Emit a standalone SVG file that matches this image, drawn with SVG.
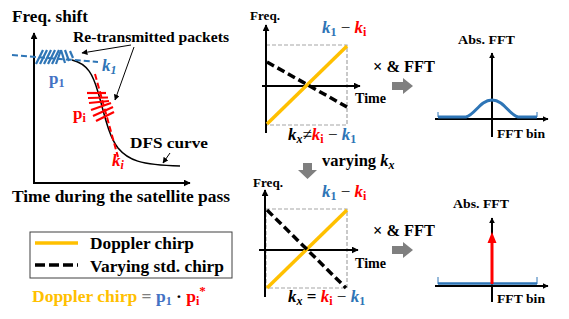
<svg xmlns="http://www.w3.org/2000/svg" width="569" height="319" viewBox="0 0 569 319">
<defs>
<marker id="ah" viewBox="0 0 10 10" refX="9" refY="5" markerWidth="7" markerHeight="7" markerUnits="userSpaceOnUse" orient="auto"><path d="M0,0 L10,5 L0,10 z" fill="#000"/></marker>
<marker id="ahs" viewBox="0 0 10 10" refX="9" refY="5" markerWidth="6" markerHeight="6" markerUnits="userSpaceOnUse" orient="auto"><path d="M0,0 L10,5 L0,10 z" fill="#000"/></marker>
</defs>
<style>
text{font-family:"Liberation Serif","Times New Roman",serif;font-weight:bold;fill:#000}
.m{font-style:italic}
.b{fill:#2E75B6}.r{fill:#FF0000}.y{fill:#FFC000}.g{fill:#7F7F7F}.pb{fill:#4472C4}
.ax{stroke:#000;stroke-width:2;fill:none}
.box{stroke:#A6A6A6;stroke-width:1.2;stroke-dasharray:4 2;fill:none}
.yl{stroke:#FFC000;stroke-width:3.5}
.bd{stroke:#000;stroke-width:3.5;stroke-dasharray:8 4}
.ga{fill:#7F7F7F}
</style>
<g id="left-plot">
<line class="ax" x1="34" y1="183" x2="34" y2="33" marker-end="url(#ah)"/>
<line class="ax" x1="33" y1="183" x2="190" y2="183" marker-end="url(#ah)"/>
<text x="12" y="22" font-size="17" textLength="76" lengthAdjust="spacingAndGlyphs">Freq. shift</text>
<text x="12" y="201.5" font-size="17" textLength="218" lengthAdjust="spacingAndGlyphs">Time during the satellite pass</text>
<path d="M72,60 C88,64 93,75 98,92 C104,112 108,135 118,148 C128,160 140,165 180,166" stroke="#000" stroke-width="1.5" fill="none"/>
<line x1="12" y1="55" x2="98" y2="62" stroke="#2E75B6" stroke-width="2" stroke-dasharray="6 3"/>
<g stroke="#2E75B6" stroke-width="2.2">
<line x1="36" y1="64" x2="43" y2="50"/>
<line x1="40" y1="64" x2="47" y2="50"/>
<line x1="44" y1="64" x2="51" y2="50"/>
<line x1="48" y1="64" x2="55" y2="50"/>
<line x1="52" y1="64" x2="59" y2="50"/>
<line x1="56" y1="64" x2="61" y2="50"/>
<line x1="61" y1="50" x2="65" y2="63"/>
<line x1="65" y1="50" x2="69" y2="61"/>
<line x1="70" y1="51" x2="73" y2="58"/>
</g>
<line x1="95" y1="74" x2="118" y2="157" stroke="#FF0000" stroke-width="2" stroke-dasharray="6 3"/>
<g stroke="#FF0000" stroke-width="2.2">
<line x1="87" y1="93" x2="106" y2="93"/>
<line x1="88" y1="98" x2="108" y2="97.5"/>
<line x1="89" y1="103" x2="109" y2="101"/>
<line x1="91" y1="110" x2="111" y2="103"/>
<line x1="93" y1="116" x2="113" y2="107"/>
<line x1="96" y1="121" x2="114" y2="112"/>
</g>
<text x="102" y="71" font-size="17" class="m b">k<tspan font-size="12" dy="3">1</tspan></text>
<text x="49" y="84" font-size="17" class="pb">p<tspan font-size="12" dy="3">1</tspan></text>
<text x="73" y="119" font-size="17" class="r">p<tspan font-size="12" dy="3">i</tspan></text>
<text x="112" y="166" font-size="17" class="m r">k<tspan font-size="12" dy="3">i</tspan></text>
<text x="73" y="41.5" font-size="14.5" textLength="156" lengthAdjust="spacingAndGlyphs">Re-transmitted packets</text>
<text x="130" y="148" font-size="15.5" textLength="78" lengthAdjust="spacingAndGlyphs">DFS curve</text>
<line x1="131" y1="45" x2="82" y2="53" stroke="#000" stroke-width="1" marker-end="url(#ahs)"/>
<line x1="134" y1="47" x2="115" y2="100" stroke="#000" stroke-width="1" marker-end="url(#ahs)"/>
<line x1="170" y1="153" x2="163" y2="163" stroke="#000" stroke-width="1" marker-end="url(#ahs)"/>
</g>
<g id="legend">
<rect x="30" y="232" width="202" height="46" fill="#fff" stroke="#404040" stroke-width="1"/>
<line x1="35" y1="243" x2="78" y2="243" stroke="#FFC000" stroke-width="3.5"/>
<line x1="35" y1="265" x2="78" y2="265" stroke="#000" stroke-width="3.5" stroke-dasharray="10 4"/>
<text x="90" y="249" font-size="16.5" textLength="104" lengthAdjust="spacingAndGlyphs">Doppler chirp</text>
<text x="90" y="271.5" font-size="16.5" textLength="134" lengthAdjust="spacingAndGlyphs">Varying std. chirp</text>
</g>
<g id="formula">
<text x="32" y="302" font-size="17.5"><tspan class="y">Doppler chirp</tspan><tspan class="g"> = </tspan><tspan class="pb">p</tspan><tspan class="pb" font-size="12" dy="3">1</tspan><tspan dy="-3"> · </tspan><tspan class="r">p</tspan><tspan class="r" font-size="12" dy="3">i</tspan><tspan class="r" font-size="13" dy="-10">*</tspan></text>
</g>
<g id="top-chirp">
<rect class="box" x="266" y="45" width="81" height="80"/>
<line class="ax" x1="266" y1="133" x2="266" y2="25" marker-end="url(#ah)"/>
<line class="ax" x1="262" y1="86" x2="360" y2="86" marker-end="url(#ah)"/>
<line class="yl" x1="267" y1="124" x2="347" y2="46"/>
<line class="bd" x1="267" y1="62" x2="347" y2="107"/>
<text x="250" y="19.5" font-size="13" textLength="30" lengthAdjust="spacingAndGlyphs">Freq.</text>
<text x="355" y="103" font-size="14" textLength="31" lengthAdjust="spacingAndGlyphs">Time</text>
<text x="322" y="33" font-size="17"><tspan class="m b">k</tspan><tspan class="b" font-size="12" dy="3">1</tspan><tspan dy="-3" font-weight="normal"> − </tspan><tspan class="m r">k</tspan><tspan class="r" font-size="12" dy="3">i</tspan></text>
<text x="288" y="140" font-size="17"><tspan class="m">k</tspan><tspan class="m" font-size="12" dy="3">x</tspan><tspan dy="-3" font-weight="normal">≠</tspan><tspan class="m r">k</tspan><tspan class="r" font-size="12" dy="3">i</tspan><tspan dy="-3" font-weight="normal"> − </tspan><tspan class="m b">k</tspan><tspan class="b" font-size="12" dy="3">1</tspan></text>
</g>
<g id="top-fft-step">
<text x="373" y="72" font-size="16.5" textLength="62" lengthAdjust="spacingAndGlyphs">× &amp; FFT</text>
<path class="ga" d="M392,82 L403,82 L403,78 L413,86 L403,94 L403,90 L392,90 z"/>
</g>
<g id="top-fft">
<line class="ax" x1="492" y1="137" x2="492" y2="53" stroke-width="1.8" marker-end="url(#ahs)"/>
<line class="ax" x1="435" y1="119" x2="548" y2="119" stroke-width="1.8" marker-end="url(#ahs)"/>
<path d="M438,117 L466,117 C475,115 480,100 492,100 C504,100 509,115 518,117 L537,117" stroke="#2E75B6" stroke-width="3" fill="none"/>
<line x1="438" y1="112" x2="438" y2="117" stroke="#2E75B6" stroke-width="1"/>
<line x1="537" y1="112" x2="537" y2="117" stroke="#2E75B6" stroke-width="1"/>
<text x="458" y="44" font-size="13" textLength="57" lengthAdjust="spacingAndGlyphs">Abs. FFT</text>
<text x="497" y="138" font-size="13" textLength="48" lengthAdjust="spacingAndGlyphs">FFT bin</text>
</g>
<g id="varying-step">
<path class="ga" d="M303,163 L312,163 L312,170 L317,170 L307.5,179 L298,170 L303,170 z"/>
<text x="322" y="166" font-size="16.5">varying <tspan class="m">k</tspan><tspan class="m" font-size="12" dy="3">x</tspan></text>
</g>
<g id="bottom-chirp">
<rect class="box" x="266" y="209" width="81" height="79"/>
<line class="ax" x1="265" y1="297" x2="265" y2="190" marker-end="url(#ah)"/>
<line class="ax" x1="259" y1="250" x2="358" y2="250" marker-end="url(#ah)"/>
<line class="yl" x1="267" y1="288" x2="347" y2="210"/>
<line class="bd" x1="267" y1="210" x2="346" y2="288"/>
<text x="253" y="187" font-size="13" textLength="30" lengthAdjust="spacingAndGlyphs">Freq.</text>
<text x="355" y="268" font-size="14" textLength="31" lengthAdjust="spacingAndGlyphs">Time</text>
<text x="322" y="197" font-size="17"><tspan class="m b">k</tspan><tspan class="b" font-size="12" dy="3">1</tspan><tspan dy="-3" font-weight="normal"> − </tspan><tspan class="m r">k</tspan><tspan class="r" font-size="12" dy="3">i</tspan></text>
<text x="288" y="302" font-size="17"><tspan class="m">k</tspan><tspan class="m" font-size="12" dy="3">x</tspan><tspan dy="-3"> = </tspan><tspan class="m r">k</tspan><tspan class="r" font-size="12" dy="3">i</tspan><tspan dy="-3" font-weight="normal"> − </tspan><tspan class="m b">k</tspan><tspan class="b" font-size="12" dy="3">1</tspan></text>
</g>
<g id="bottom-fft-step">
<text x="373" y="236" font-size="16.5" textLength="62" lengthAdjust="spacingAndGlyphs">× &amp; FFT</text>
<path class="ga" d="M392,246 L403,246 L403,242 L413,250 L403,258 L403,254 L392,254 z"/>
</g>
<g id="bottom-fft">
<line class="ax" x1="492" y1="302" x2="492" y2="218" stroke-width="1.8" marker-end="url(#ahs)"/>
<line class="ax" x1="435" y1="286" x2="548" y2="286" stroke-width="1.8" marker-end="url(#ahs)"/>
<line x1="438" y1="283.5" x2="537" y2="283.5" stroke="#2E75B6" stroke-width="2.5"/>
<line x1="438" y1="277" x2="438" y2="284" stroke="#2E75B6" stroke-width="1"/>
<line x1="537" y1="277" x2="537" y2="284" stroke="#2E75B6" stroke-width="1"/>
<line x1="492" y1="284" x2="492" y2="242" stroke="#FF0000" stroke-width="3"/>
<path d="M487.5,243 L492,232 L496.5,243 z" fill="#FF0000"/>
<text x="453" y="208" font-size="13" textLength="56" lengthAdjust="spacingAndGlyphs">Abs. FFT</text>
<text x="497" y="303" font-size="13" textLength="48" lengthAdjust="spacingAndGlyphs">FFT bin</text>
</g>
</svg>
